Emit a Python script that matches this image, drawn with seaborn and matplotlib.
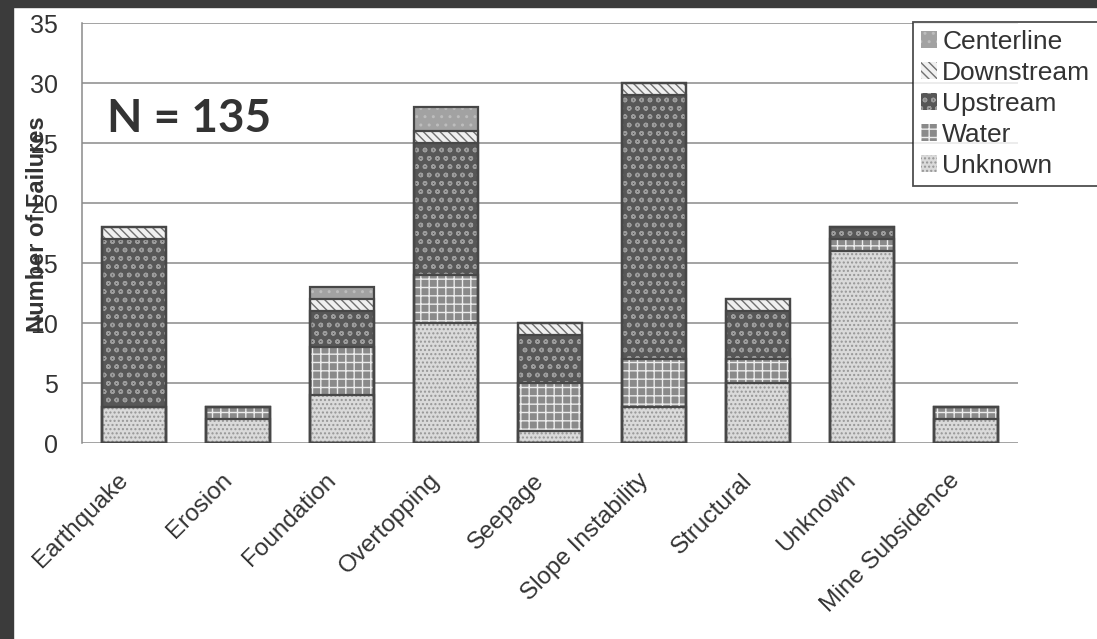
import pandas as pd
import matplotlib.pyplot as plt
import seaborn as sns
from matplotlib.patches import Rectangle
from matplotlib.transforms import ScaledTranslation

# failure causes and counts per dam construction method
causes = ['Earthquake', 'Erosion', 'Foundation', 'Overtopping', 'Seepage',
          'Slope Instability', 'Structural', 'Unknown', 'Mine Subsidence']
unknown = [3, 2, 4, 10, 1, 3, 5, 16, 2]
water = [0, 1, 4, 4, 4, 4, 2, 1, 1]
upstream = [14, 0, 3, 11, 4, 22, 4, 1, 0]
downstream = [1, 0, 1, 1, 1, 1, 1, 0, 0]
centerline = [0, 0, 1, 2, 0, 0, 0, 0, 0]
y_ticks = [0, 5, 10, 15, 20, 25, 30, 35]

df = pd.DataFrame({'cause': causes, 'Unknown': unknown, 'Water': water,
                   'Upstream': upstream, 'Downstream': downstream,
                   'Centerline': centerline})
stack = ['Unknown', 'Water', 'Upstream', 'Downstream', 'Centerline']
cum = df[stack].cumsum(axis=1)
total = int(df[stack].values.sum())

# grey-scale fills with hatching like the printed figure
face = {'Centerline': '#a2a2a2', 'Downstream': '#f0f0f0', 'Upstream': '#575757',
        'Water': '#8a8a8a', 'Unknown': '#dadada'}
hatch = {'Centerline': '..', 'Downstream': '\\\\\\\\', 'Upstream': 'oo',
         'Water': '++', 'Unknown': '....'}
hcol = {'Centerline': '#bdbdbd', 'Downstream': '#707070', 'Upstream': '#9c9c9c',
        'Water': '#ececec', 'Unknown': '#969696'}

sns.set_style('white')
plt.rcParams['font.family'] = ['Liberation Sans', 'DejaVu Sans']
plt.rcParams['hatch.linewidth'] = 1.0

fig = plt.figure(figsize=(10.97, 6.39), dpi=100)
ax = fig.add_axes([0.0747, 0.3067, 0.8533, 0.6573])

bw = 0.62
# draw tallest cumulative first, smaller ones on top
for layer in ['Centerline', 'Downstream', 'Upstream', 'Water', 'Unknown']:
    sns.barplot(x=causes, y=cum[layer].values, color=face[layer], saturation=1,
                hatch=hatch[layer], edgecolor=hcol[layer], linewidth=0,
                width=bw, label=layer, ax=ax, zorder=2)
for layer in ['Centerline', 'Downstream', 'Upstream', 'Water', 'Unknown']:
    sns.barplot(x=causes, y=cum[layer].values, fill=False, edgecolor='#474747',
                linewidth=1.6, width=bw, ax=ax, zorder=3)

ax.set_xlim(-0.5, 8.5)
ax.set_ylim(0, 35)
ax.set_yticks(y_ticks)
ax.yaxis.grid(True, color='#8a8a8a', linewidth=1.1)
ax.set_axisbelow(True)
for s in ['top', 'right', 'bottom']:
    ax.spines[s].set_visible(False)
ax.spines['left'].set_color('#8a8a8a')
ax.spines['left'].set_linewidth(1.1)

ax.tick_params(axis='y', length=0, pad=17, labelsize=18, labelcolor='#333333')
ax.tick_params(axis='x', length=0, pad=19, labelsize=17.5, labelcolor='#333333')
shift = ScaledTranslation(-0.17, 0, fig.dpi_scale_trans)
for lab in ax.get_xticklabels():
    lab.set_rotation(45)
    lab.set_ha('right')
    lab.set_rotation_mode('anchor')
    lab.set_transform(lab.get_transform() + shift)

ax.set_ylabel('Number of Failures', fontsize=17, fontweight='bold', color='#333333')
ax.yaxis.set_label_coords(-0.035, 0.52)

ax.text(-0.26, 25.9, f'N = {total}', fontsize=33, fontweight='bold',
        family=['Lato', 'DejaVu Sans'], color='#333333', va='baseline')

leg = ax.legend(loc='upper left', bbox_to_anchor=(0.888, 1.003), fontsize=19,
                frameon=True, fancybox=False, edgecolor='#222222',
                borderaxespad=0, borderpad=0.3, handlelength=0.6,
                handleheight=0.6, handletextpad=0.2, labelspacing=0.27)
leg.get_frame().set_linewidth(1.3)
for t in leg.get_texts():
    t.set_color('#333333')

# dark scan border on left and top
fig.patches.append(Rectangle((0, 0), 13 / 1097, 1, transform=fig.transFigure,
                             color='#3b3b3b', zorder=10))
fig.patches.append(Rectangle((0, 1 - 7 / 639), 1, 7 / 639, transform=fig.transFigure,
                             color='#3b3b3b', zorder=10))

fig.savefig('out.png', dpi=100)
